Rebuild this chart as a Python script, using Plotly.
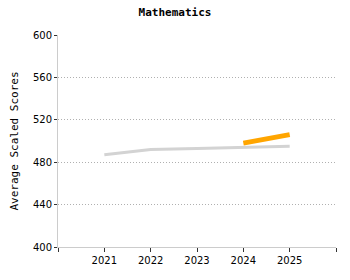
import plotly.graph_objects as go

years = [2021, 2022, 2023, 2024, 2025]
gray_scores = [487, 492, 493, 494, 495]
orange_years = [2024, 2025]
orange_scores = [498, 506]
y_ticks = [400, 440, 480, 520, 560, 600]
x_tickvals = [2020, 2021, 2022, 2023, 2024, 2025, 2026]
x_ticktext = ["", "2021", "2022", "2023", "2024", "2025", ""]

fig = go.Figure()
fig.add_trace(go.Scatter(x=years, y=gray_scores, mode="lines",
                         line=dict(color="#d3d3d3", width=3), showlegend=False))
fig.add_trace(go.Scatter(x=orange_years, y=orange_scores, mode="lines",
                         line=dict(color="#ffa500", width=5), showlegend=False))

fig.update_layout(
    width=350, height=280,
    margin=dict(l=58, r=14, t=35, b=33),
    paper_bgcolor="white", plot_bgcolor="white",
    title=dict(text="<b>Mathematics</b>", x=0.5, xanchor="center", y=0.955, yanchor="middle",
               font=dict(family="DejaVu Sans Mono", size=11, color="black")),
    font=dict(family="DejaVu Sans", size=10, color="black"),
)
fig.update_xaxes(range=[2020, 2026], tickvals=x_tickvals, ticktext=x_ticktext,
                 showgrid=False, zeroline=False, showline=True, linecolor="#cccccc",
                 ticks="outside", ticklen=4, tickcolor="#333333",
                 tickfont=dict(family="DejaVu Sans", size=10))
fig.update_yaxes(range=[400, 600], tickvals=y_ticks,
                 showgrid=True, gridcolor="#b0b0b0", griddash="1px,2px", gridwidth=1,
                 zeroline=False, showline=True, linecolor="#cccccc",
                 ticks="outside", ticklen=3, tickcolor="#333333",
                 tickfont=dict(family="DejaVu Sans", size=10),
                 title=dict(text="Average Scaled Scores", standoff=12,
                            font=dict(family="DejaVu Sans Mono", size=11)))

fig.write_html("out.html")
